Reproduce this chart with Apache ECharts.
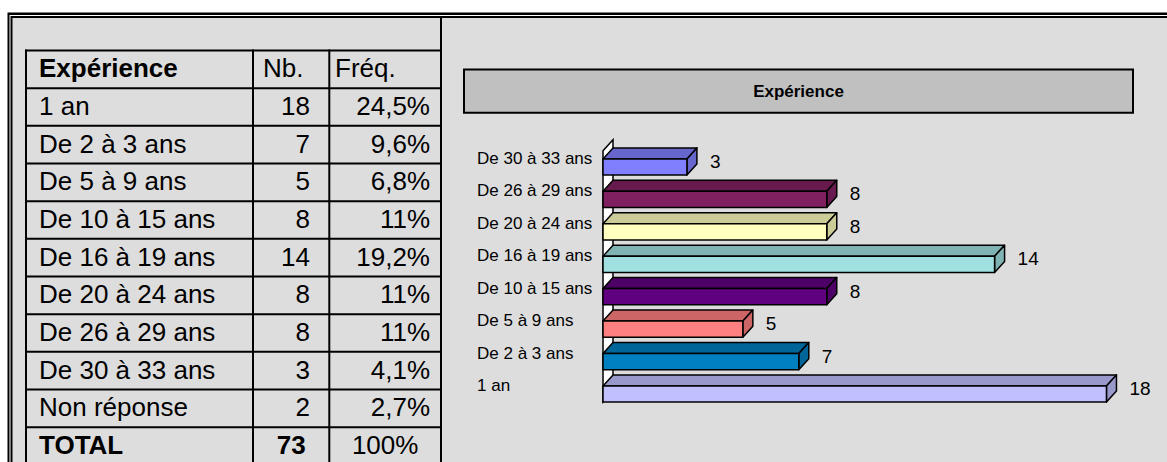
<!DOCTYPE html>
<html>
<head>
<meta charset="utf-8">
<script src="https://cdn.jsdelivr.net/npm/echarts@6/dist/echarts.min.js"></script>
<style>
html,body{margin:0;padding:0;background:#fff;}
#main{width:1167px;height:462px;}
</style>
</head>
<body>
<div id="main"></div>
<script>
// ---------- DATA ----------
const tableHeaders = ['Expérience', 'Nb.', 'Fréq.'];
const tableCategories = ['1 an', 'De 2 à 3 ans', 'De 5 à 9 ans', 'De 10 à 15 ans', 'De 16 à 19 ans', 'De 20 à 24 ans', 'De 26 à 29 ans', 'De 30 à 33 ans', 'Non réponse'];
const tableCounts = [18, 7, 5, 8, 14, 8, 8, 3, 2];
const tableFreqs = ['24,5%', '9,6%', '6,8%', '11%', '19,2%', '11%', '11%', '4,1%', '2,7%'];
const totalRow = ['TOTAL', '73', '100%'];

const chartTitle = 'Expérience';
const barCategories = ['1 an', 'De 2 à 3 ans', 'De 5 à 9 ans', 'De 10 à 15 ans', 'De 16 à 19 ans', 'De 20 à 24 ans', 'De 26 à 29 ans', 'De 30 à 33 ans'];
const barValues = [18, 7, 5, 8, 14, 8, 8, 3];

// ---------- STYLES ----------
const frontColors = ['#C0C0FF', '#0080C0', '#FF8080', '#600080', '#A0E0E0', '#FFFFC0', '#802060', '#8080FF'];
const topColors   = ['#9999CC', '#006699', '#CC6666', '#4D0066', '#80B3B3', '#CCCC99', '#661A4D', '#6666CC'];
const FONT = '"Liberation Sans", Arial, Helvetica, sans-serif';
const BG = '#DDDDDD';
const DX = 10, DY = 11;

// ---------- TABLE LAYOUT ----------
const colX = [26, 253, 329.3, 441];
const rowTop = 50.5, rowH = 37.67;
const graphics = [];
// page frame (double line)
graphics.push({type:'rect', z:-100, shape:{x:7.5, y:12.5, width:1300, height:600}, style:{fill:'#000'}, silent:true});
graphics.push({type:'rect', z:-99, shape:{x:9.5, y:15, width:1300, height:600}, style:{fill:'#fff'}, silent:true});
graphics.push({type:'rect', z:-98, shape:{x:10.5, y:16, width:1300, height:600}, style:{fill:'#000'}, silent:true});
graphics.push({type:'rect', z:-97, shape:{x:12.5, y:18, width:1300, height:600}, style:{fill:BG}, silent:true});
// divider
graphics.push({type:'line', z:-90, shape:{x1:441, y1:17, x2:441, y2:470}, style:{stroke:'#000', lineWidth:2}, silent:true});

const allRows = [tableHeaders].concat(tableCategories.map((c,i)=>[c, String(tableCounts[i]), tableFreqs[i]])).concat([totalRow]);
const nRows = allRows.length;
for (let r = 0; r <= nRows; r++) {
  const y = rowTop + r*rowH;
  graphics.push({type:'line', z:-80, shape:{x1:colX[0]-1, y1:y, x2:colX[3], y2:y}, style:{stroke:'#000', lineWidth:2}, silent:true});
}
colX.forEach(x => {
  graphics.push({type:'line', z:-80, shape:{x1:x, y1:rowTop-1, x2:x, y2:rowTop + nRows*rowH}, style:{stroke:'#000', lineWidth:2}, silent:true});
});
allRows.forEach((row, r) => {
  const yc = rowTop + r*rowH + rowH/2 - 1;
  const isHead = r === 0, isTotal = r === nRows-1;
  const bold = (isHead || isTotal);
  const mk = (txt, x, align, w) => ({type:'text', z:-70, silent:true,
    style:{text:txt, x:x, y:yc, textAlign:align, textVerticalAlign:'middle', fill:'#000',
      font: (w ? 'bold ' : '') + '26px ' + FONT}});
  graphics.push(mk(row[0], 39, 'left', bold));
  if (isHead) {
    graphics.push(mk(row[1], 263, 'left', false));
    graphics.push(mk(row[2], 335, 'left', false));
  } else if (isTotal) {
    graphics.push(mk(row[1], (colX[1]+colX[2])/2, 'center', true));
    graphics.push(mk(row[2], (colX[2]+colX[3])/2, 'center', false));
  } else {
    graphics.push(mk(row[1], 310, 'right', false));
    graphics.push(mk(row[2], 430, 'right', false));
  }
});
// chart title box
graphics.push({type:'rect', z:-60, shape:{x:464, y:69.5, width:669, height:43.2}, style:{fill:'#C0C0C0', stroke:'#000', lineWidth:2}, silent:true});
graphics.push({type:'text', z:-59, silent:true, style:{text:chartTitle, x:798.5, y:91.5, textAlign:'center', textVerticalAlign:'middle', fill:'#000', font:'bold 17px ' + FONT}});

// ---------- CHART ----------
const chart = echarts.init(document.getElementById('main'), null, {renderer:'svg'});
const option = {
  animation:false,
  backgroundColor:'#fff',
  graphic: graphics,
  grid: {left:603, right:4.6, top:150.8, bottom:51.8, containLabel:false},
  xAxis: {type:'value', min:0, max:20, show:false},
  yAxis: {type:'category', data:barCategories,
    axisLine:{show:false}, axisTick:{show:false}, splitLine:{show:false},
    axisLabel:{align:'left', verticalAlign:'bottom', lineHeight:17, margin:126, fontSize:17, fontFamily:FONT, color:'#000'}},
  series: [
    {
      type:'custom', z:1, silent:true,
      data:[[0,0]],
      encode:{x:0, y:1},
      renderItem:function(params, api){
        const cs = params.coordSys;
        const bh = api.size([0,1])[1]*0.5;
        const bottomFront = api.coord([0,0])[1] + bh/2;
        const x0 = cs.x, top = cs.y;
        return {type:'polygon', shape:{points:[[x0,top],[x0+DX,top-DY],[x0+DX,bottomFront-DY],[x0,bottomFront]]},
          style:{fill:'#FFFFFF', stroke:'#000', lineWidth:1.5}};
      }
    },
    {
      type:'custom', z:2, silent:true,
      data: barValues.map((v,i)=>[v,i]),
      encode:{x:0, y:1},
      renderItem:function(params, api){
        const val = api.value(0), idx = api.value(1);
        const p0 = api.coord([0, idx]), p1 = api.coord([val, idx]);
        const h = api.size([0,1])[1]*0.5;
        const x0 = p0[0], x1 = p1[0], yt = p0[1]-h/2, yb = p0[1]+h/2;
        const stroke = {stroke:'#000', lineWidth:1.5, lineJoin:'round'};
        return {type:'group', children:[
          {type:'polygon', shape:{points:[[x0,yt],[x1,yt],[x1+DX,yt-DY],[x0+DX,yt-DY]]}, style:Object.assign({fill:topColors[idx]}, stroke)},
          {type:'polygon', shape:{points:[[x1,yt],[x1+DX,yt-DY],[x1+DX,yb-DY],[x1,yb]]}, style:Object.assign({fill:topColors[idx]}, stroke)},
          {type:'rect', shape:{x:x0, y:yt, width:x1-x0, height:h}, style:Object.assign({fill:frontColors[idx]}, stroke)},
          {type:'text', style:{text:String(val), x:x1+23, y:p0[1]-5.5, textAlign:'left', textVerticalAlign:'middle', fill:'#000', font:'19px ' + FONT}}
        ]};
      }
    }
  ]
};
chart.setOption(option);
</script>
</body>
</html>
